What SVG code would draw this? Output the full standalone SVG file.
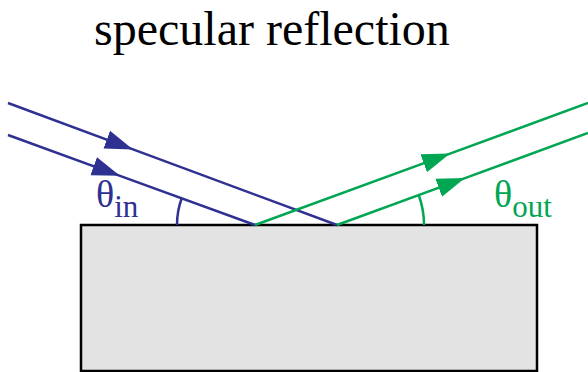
<svg xmlns="http://www.w3.org/2000/svg" width="588" height="372" viewBox="0 0 588 372">
  <style>
    .title { font-family: "Liberation Serif", "Times New Roman", "DejaVu Serif", serif; font-size: 48px; fill: #000; }
    .lbl, .sub { font-family: "Liberation Serif", "Times New Roman", "DejaVu Serif", serif; }
    .lbl { font-size: 38px; }
    .sub { font-size: 31px; }
    .blue { stroke: #2e3192; stroke-width: 2.5; fill: none; }
    .green { stroke: #00a651; stroke-width: 2.5; fill: none; }
  </style>
  <defs>
    <marker id="ah-blue" markerUnits="userSpaceOnUse" markerWidth="30" markerHeight="22" viewBox="0 0 30 22" refX="28" refY="11" orient="auto">
      <path d="M0,1.5 L28,11 L0,20.5 Z" fill="#2e3192"/>
    </marker>
    <marker id="ah-green" markerUnits="userSpaceOnUse" markerWidth="30" markerHeight="22" viewBox="0 0 30 22" refX="28" refY="11" orient="auto">
      <path d="M0,1.5 L28,11 L0,20.5 Z" fill="#00a651"/>
    </marker>
  </defs>

  <text class="title" x="94" y="45">specular reflection</text>

  <g id="surface">
    <rect x="81" y="225" width="456" height="146" fill="#e3e3e3" stroke="#000" stroke-width="2.5"/>
  </g>

  <g id="connectors">
    <path class="blue" d="M8,103 L133,149.4 L337,225" marker-mid="url(#ah-blue)"/>
    <path class="blue" d="M8,135 L120,175.8 L255,225" marker-mid="url(#ah-blue)"/>
    <path class="green" d="M255,225 L450,153.6 L588,103" marker-mid="url(#ah-green)"/>
    <path class="green" d="M337,225 L465,178.1 L588,133" marker-mid="url(#ah-green)"/>
    <path class="blue" d="M177,225 A78,78 0 0 1 181.7,198.3"/>
    <path class="green" d="M424,225 A87,87 0 0 0 418.8,195.2"/>
  </g>

  <g id="theta-in">
    <text class="lbl" x="96" y="207" fill="#2e3192">θ<tspan class="sub" dy="10">in</tspan></text>
  </g>
  <g id="theta-out">
    <text class="lbl" x="494" y="207" fill="#00a651">θ<tspan class="sub" dy="10">out</tspan></text>
  </g>
</svg>
